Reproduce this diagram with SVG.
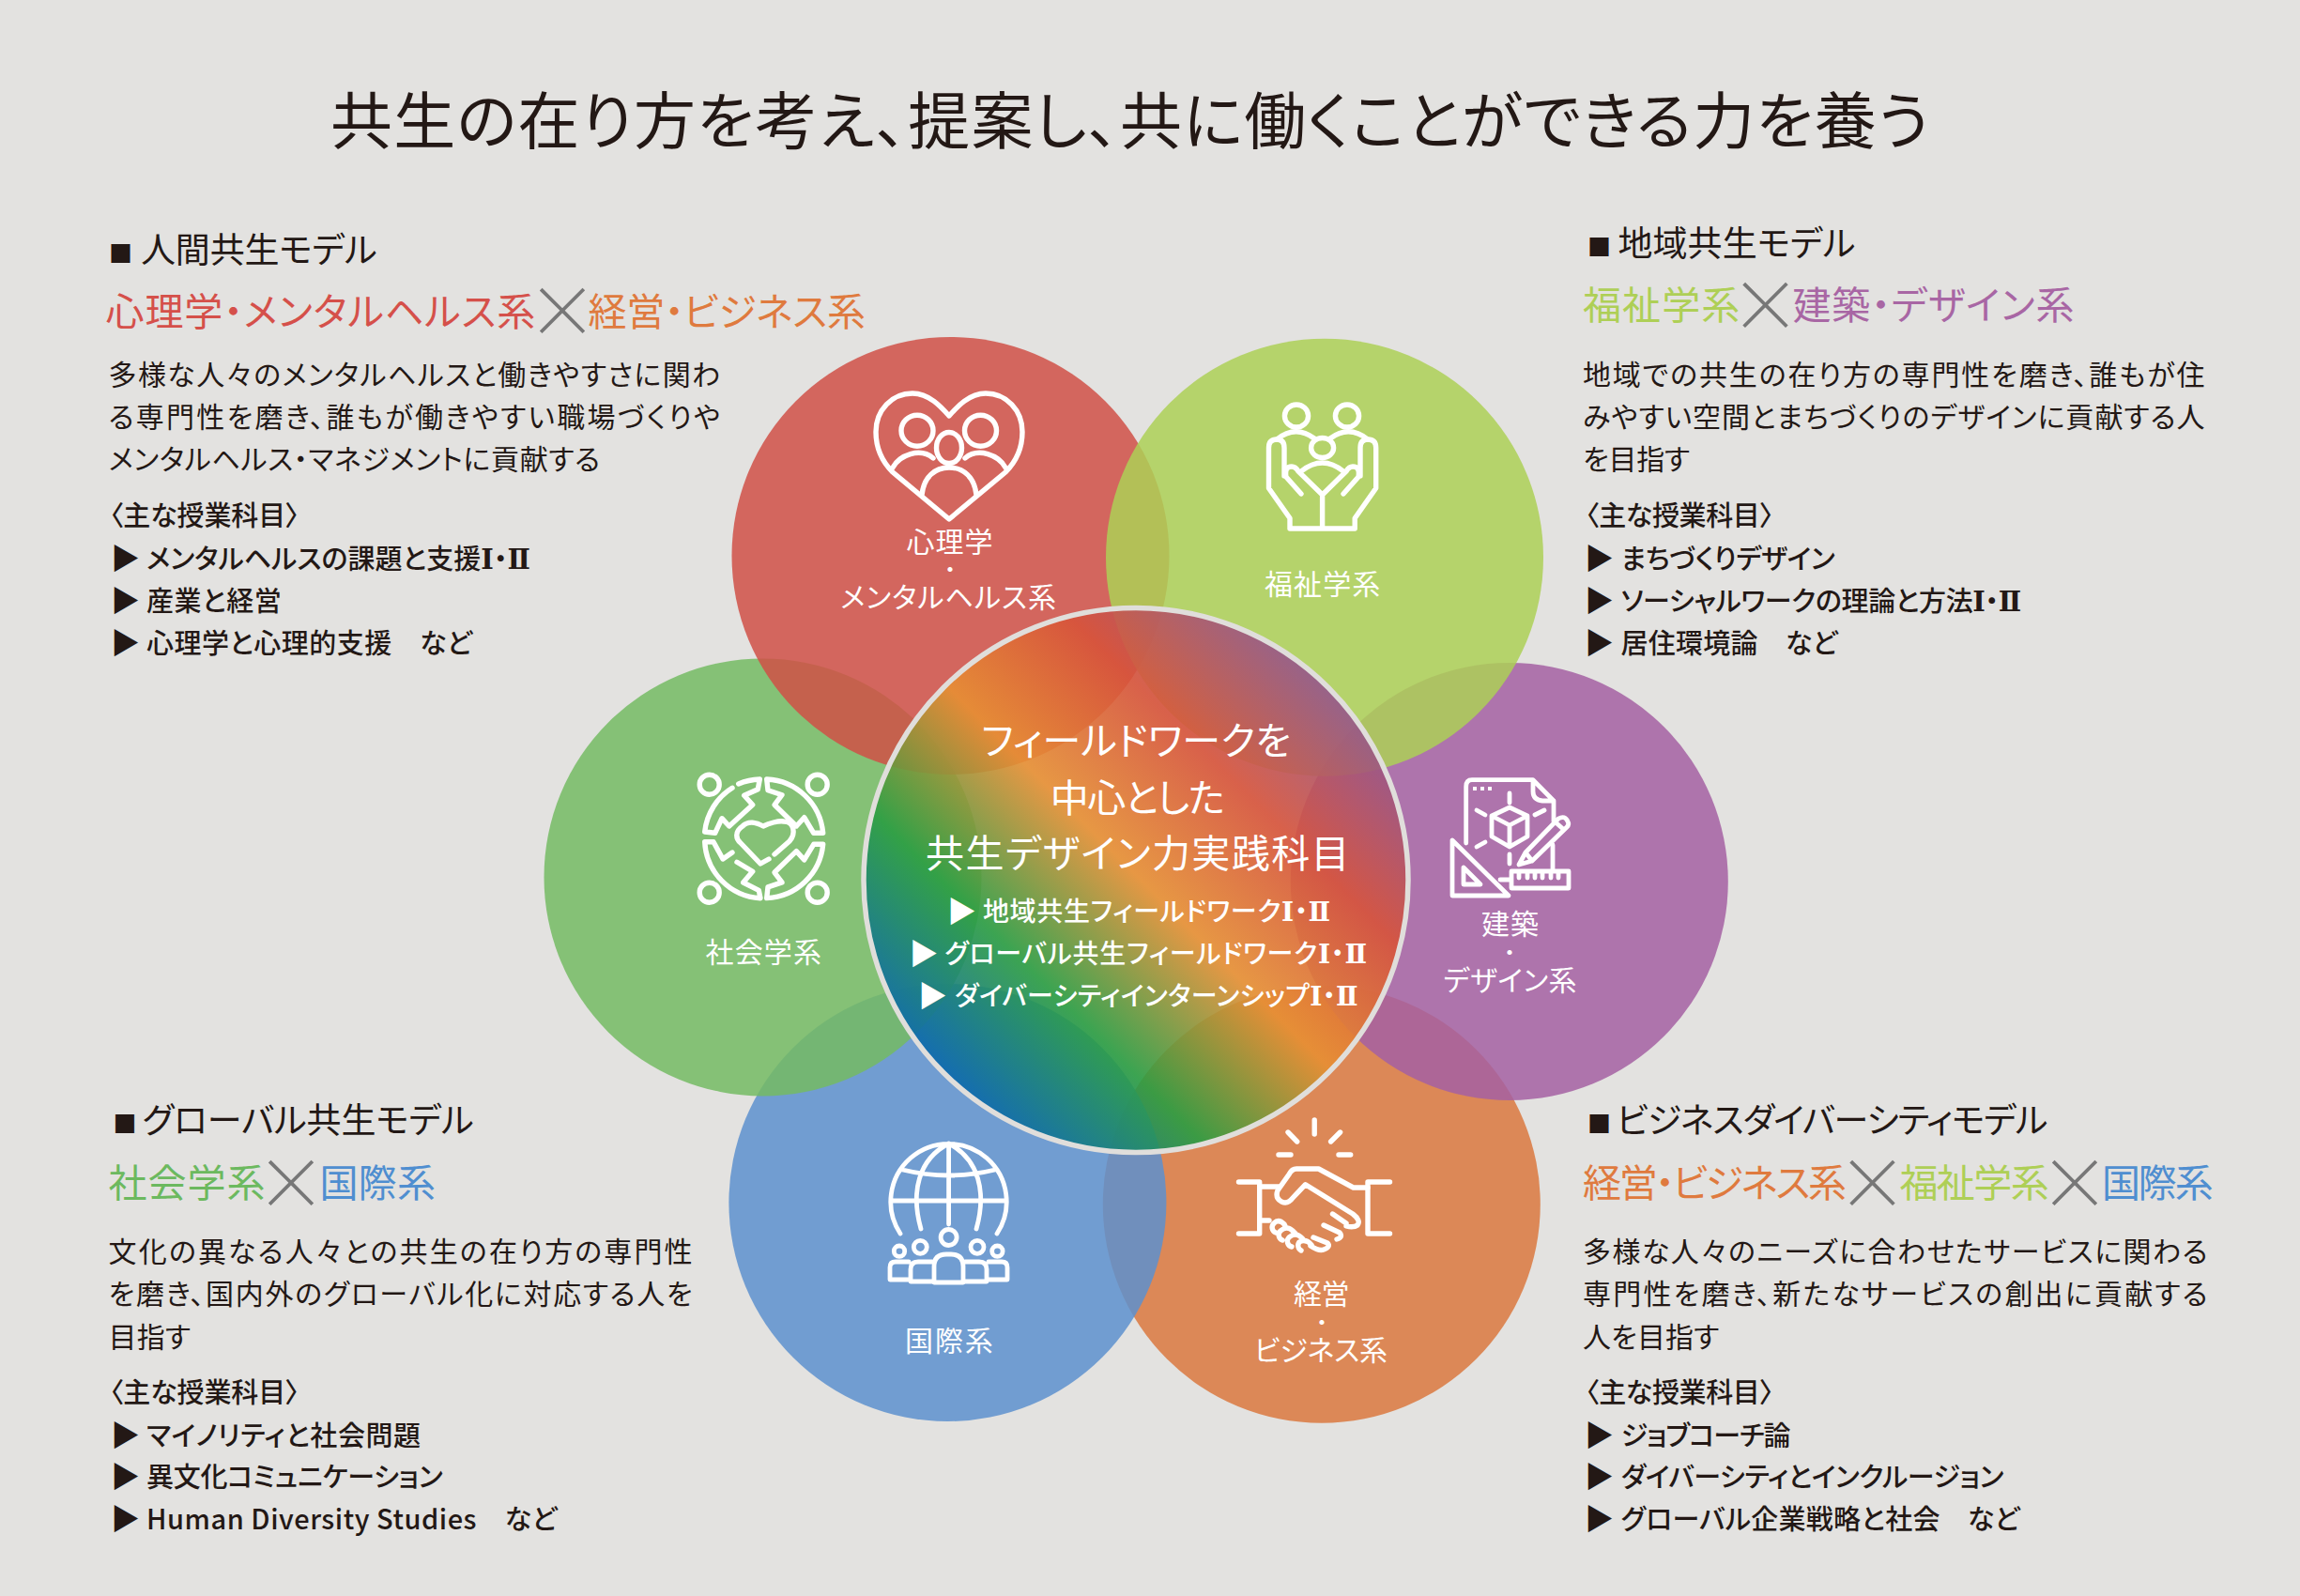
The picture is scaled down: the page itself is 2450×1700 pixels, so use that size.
<svg xmlns="http://www.w3.org/2000/svg" width="2450" height="1700" viewBox="0 0 2450 1700">
<style>
text{font-family:"Noto Sans CJK JP","Noto Sans",sans-serif;fill:#231815;font-feature-settings:"palt";}
.title{font-size:66px;font-weight:400}
.h{font-size:37px;font-weight:400}
.sq{font-size:25px}
.s{font-size:41px;font-weight:400}
.x{font-size:76px;font-weight:300;fill:#777;text-anchor:middle;font-feature-settings:normal}
.d{font-size:30px}
.m{font-size:29px;font-weight:500}
.t{font-size:31px;font-weight:500}
.w{fill:#fff}
.l{font-size:30px;font-weight:400;fill:#fff}
.c{font-size:41px;fill:#fff}
.i{font-size:28px;font-weight:500;fill:#fff}
.dot{font-size:20px;font-weight:700;fill:#fff;text-anchor:middle;font-feature-settings:normal}
.rn{font-family:"DejaVu Serif","Noto Sans CJK JP",serif;font-weight:700;font-feature-settings:normal}
.r{fill:#d5504a}.o{fill:#df7a3e}.y{fill:#aecf56}.p{fill:#a866a4}.g{fill:#6cb95f}.b{fill:#4f8ed0}
.ci{opacity:.85}
.ic{fill:none;stroke:#fff;stroke-width:5.4;stroke-linecap:round;stroke-linejoin:round}
</style>
<defs>
<linearGradient id="rb" gradientUnits="userSpaceOnUse" x1="1004" y1="1143.5" x2="1430" y2="717.5">
<stop offset="0" stop-color="#0a67ae"/><stop offset=".24" stop-color="#2a9d42"/><stop offset=".49" stop-color="#e78f33"/><stop offset=".73" stop-color="#d7533a"/><stop offset="1" stop-color="#8a5799"/>
</linearGradient>
</defs>
<rect width="2450" height="1700" fill="#e3e2e0"/>
<g id="title"><text class="title" x="352" y="153" textLength="1703">共生の在り方を考え、提案し、共に働くことができる力を養う</text></g>

<g id="circles">
<circle class="ci" cx="1407.8" cy="1282.8" r="233" fill="#db783e"/>
<circle class="ci" cx="1607.8" cy="939" r="233" fill="#a560a2"/>
<circle class="ci" cx="1009.4" cy="1281" r="233" fill="#5d91ce"/>
<circle class="ci" cx="812.5" cy="934.4" r="233" fill="#74bb63"/>
<circle class="ci" cx="1012.5" cy="592" r="233" fill="#d05047"/>
<circle class="ci" cx="1411" cy="593.8" r="233" fill="#add056"/>
</g>

<g id="node-psych">
<g class="ic"><path d="M1011 443C1003 434 990 419 972 419C950 419 933 437 933 460C933 480 942 494 951 503L1011 553L1071 503C1080 494 1089 480 1089 460C1089 437 1072 419 1050 419C1032 419 1019 434 1011 443Z"/>
<ellipse cx="977" cy="458.7" rx="17" ry="16.5"/><ellipse cx="1044.5" cy="458.7" rx="17" ry="16.5"/><ellipse cx="1011" cy="477" rx="13.5" ry="16.5"/>
<path d="M951 498C958 485 980 476 994 488M1071 498C1064 485 1042 476 1028 488M982 527C984 508 996 498 1011 498C1026 498 1038 508 1040 527"/></g>
<text class="l" x="965.6" y="587.5" textLength="92">心理学</text>
<text class="dot" x="1012" y="614">・</text>
<text class="l" x="895.3" y="647" textLength="229.7">メンタルヘルス系</text>
</g>
<g id="node-welfare">
<g class="ic"><ellipse cx="1381" cy="443" rx="12.6" ry="12"/><ellipse cx="1435" cy="443" rx="12.6" ry="12"/><ellipse cx="1408.6" cy="477" rx="12" ry="10.5"/>
<path d="M1360 468Q1380 452 1400 467M1457 468Q1437 452 1417 467M1386 502Q1408.6 484 1431 502"/>
<path d="M1374 563V552L1351.5 520V477Q1351.5 468 1360 468Q1368 468 1368 477V507M1386 526L1370 508Q1368 497 1376 497Q1380 497 1383 502L1408.6 527V563M1443.2 563V552L1465.7 520V477Q1465.7 468 1457 468Q1449 468 1449 477V507M1431 526L1447 508Q1449 497 1441 497Q1437 497 1434 502L1408.6 527M1374 563H1443.2"/></g>
<text class="l" x="1346.9" y="633" textLength="123.4">福祉学系</text>
</g>
<g id="node-social">
<g class="ic"><circle cx="755.7" cy="835.7" r="10.5"/><circle cx="870.7" cy="835.7" r="10.5"/><circle cx="755.7" cy="950.7" r="10.5"/><circle cx="870.7" cy="950.7" r="10.5"/>
<path d="M780 839.3A63 63 0 0 0 750.7 886L761.7 887.3L769 871.7L776.7 880L801.7 857.3L792.7 847.3L807.3 840.7L809.3 830A63 63 0 0 0 786.7 835"/>
<path d="M816.7 830L818 841.7L833 846.7L825 857.3L848.3 880L856.7 870.7L866.7 887.3L876.7 887.3A63 63 0 0 0 816.7 830Z"/>
<path d="M816.7 956.6L818 944.9L833 939.9L825 929.3L848.3 906.6L856.7 915.9L866.7 899.3L876.7 899.3A63 63 0 0 1 816.7 956.6Z"/>
<path d="M780 908L770 915L760 896.7H750.7A63 63 0 0 0 810 956.7L808.3 948.3L791.7 940L801.7 928.3L785 918.3"/>
<path d="M825 910L841 896C848 888 846 875 835 875C829 874 819 877 813 880C806 876 797 874 791 880C782 886 784 894 789 898L810 920L819 915"/></g>
<text class="l" x="751.6" y="1025" textLength="123.4">社会学系</text>
</g>
<g id="node-design">
<g class="ic" style="stroke-width:4.8"><path d="M1561.7 898V838Q1561.7 830.7 1568 830.7H1633L1655 853V875M1633 831V843Q1633 852 1643 853H1655M1654 900V927"/>
<path d="M1608 860L1627 869V891L1608 902L1589 891V869ZM1589 869L1608 879L1627 869M1608 879V902"/>
<path d="M1608 845V855M1573 863L1582 868M1635 868L1645 863M1573 902L1582 897M1608 910V920"/>
<path d="M1618 921L1625 908L1660 872Q1667 868 1670 875Q1672 878 1669 881L1632 917ZM1656 875L1665 883M1625 908L1632 917"/>
<path d="M1547 895V954H1607ZM1559 924V942H1577Z"/>
<path d="M1610 928H1671V946H1610ZM1618 928V935M1627 928V935M1635 928V935M1643 928V935M1652 928V935M1660 928V935M1598 937H1610"/></g>
<g fill="#fff"><rect x="1569" y="838" width="4" height="4"/><rect x="1577" y="838" width="4" height="4"/><rect x="1585" y="838" width="4" height="4"/></g>
<text class="l" x="1578" y="995" textLength="61">建築</text>
<text class="dot" x="1608" y="1022">・</text>
<text class="l" x="1537.5" y="1054.7" textLength="142">デザイン系</text>
</g>
<g id="node-intl">
<g class="ic" style="stroke-width:4.8"><path d="M959 1314A61.7 61.7 0 1 1 1062 1314M981 1309C970 1270 978 1235 1010.6 1218C1043 1235 1051 1270 1040 1309M1010.6 1218V1304M951.4 1279H1071M961.4 1246Q1010.6 1258 1060 1246"/>
<circle cx="1010.6" cy="1318" r="8.5"/><path d="M995 1366V1349Q995 1336 1008 1336H1013Q1026 1336 1026 1349V1366Z"/>
<circle cx="980.3" cy="1328.3" r="7"/><circle cx="1041" cy="1328.3" r="7"/><circle cx="958" cy="1332.7" r="5.7"/><circle cx="1062.4" cy="1332.7" r="5.7"/>
<path d="M993 1344H978Q970 1344 970 1352V1365H993M1028 1344H1043Q1051 1344 1051 1352V1365H1028M968 1344H954Q948 1344 948 1350V1363H968M1053 1344H1067Q1073 1344 1073 1350V1363H1053"/></g>
<text class="l" x="964" y="1439" textLength="93.75">国際系</text>
</g>
<g id="node-business">
<g class="ic"><path d="M1400.2 1193V1208M1372 1206L1381.7 1216M1427.6 1206L1417.6 1216M1362 1230H1375M1426 1230H1438.7"/>
<path d="M1319.5 1259H1341.7V1314H1319.5M1480.5 1259H1457V1314H1480.5M1341.7 1264H1362M1341.7 1300H1352"/>
<path d="M1457 1265H1441.6L1404.6 1245H1381Q1376 1245 1373 1251L1361 1268Q1358 1276 1365 1280Q1372 1283 1377 1276L1390.6 1261.7L1441 1293Q1450 1300 1446 1305Q1442 1308 1434 1306"/>
<path d="M1419.5 1293L1434 1303M1410 1305L1427 1313Q1431 1318 1424 1320M1399 1318L1414 1324Q1418 1328 1410 1331Q1405 1333 1396 1327"/>
<path d="M1359 1313A6 6 0 0 1 1357 1303Q1362 1298 1368 1304L1370 1308M1366 1321A6 6 0 0 1 1364 1311Q1371 1305 1377 1311L1380 1314M1376 1328A6 6 0 0 1 1373 1318Q1380 1312 1386 1318L1388 1320M1386 1332A6 6 0 0 1 1384 1323Q1391 1319 1397 1326"/></g>
<text class="l" x="1378" y="1389" textLength="59.4">経営</text>
<text class="dot" x="1408" y="1416">・</text>
<text class="l" x="1336" y="1448.5" textLength="142">ビジネス系</text>
</g>

<g id="node-center">
<circle cx="1210" cy="937.5" r="290" fill="url(#rb)" fill-opacity=".9" stroke="#e0dedb" stroke-width="5.5"/>
<text class="c" x="1045.3" y="804" textLength="329.7">フィールドワークを</text>
<text class="c" x="1118.7" y="865" textLength="186">中心とした</text>
<text class="c" x="986" y="924" textLength="451.6">共生デザイン力実践科目</text>
<text class="t w" x="1009" y="981.5">▶</text><text class="i" x="1046.9" y="980.5" textLength="370.3">地域共生フィールドワーク<tspan class="rn">Ⅰ</tspan>・<tspan class="rn">Ⅱ</tspan></text>
<text class="t w" x="968.5" y="1027">▶</text><text class="i" x="1006.2" y="1026" textLength="450">グローバル共生フィールドワーク<tspan class="rn">Ⅰ</tspan>・<tspan class="rn">Ⅱ</tspan></text>
<text class="t w" x="978" y="1072">▶</text><text class="i" x="1017" y="1071" textLength="429.7">ダイバーシティインターンシップ<tspan class="rn">Ⅰ</tspan>・<tspan class="rn">Ⅱ</tspan></text>
</g>

<g id="panel-human">
<text class="h sq" x="116" y="280">■</text><text class="h" x="150" y="280" textLength="251.6">人間共生モデル</text>
<text class="s r" x="112.5" y="346.5" textLength="457.8">心理学・メンタルヘルス系</text>
<text class="x" x="599" y="359">×</text>
<text class="s o" x="626.6" y="346.5" textLength="295.3">経営・ビジネス系</text>
<text class="d" x="115.6" y="409.6" textLength="651.6">多様な人々のメンタルヘルスと働きやすさに関わ</text>
<text class="d" x="115.6" y="455" textLength="651.6">る専門性を磨き、誰もが働きやすい職場づくりや</text>
<text class="d" x="115.6" y="500" textLength="523.4">メンタルヘルス・マネジメントに貢献する</text>
<text class="m" x="117" y="560" textLength="201.6">〈主な授業科目〉</text>
<text class="t" x="118" y="606">▶</text><text class="m" x="156" y="605.5" textLength="409">メンタルヘルスの課題と支援<tspan class="rn">Ⅰ</tspan>・<tspan class="rn">Ⅱ</tspan></text>
<text class="t" x="118" y="651">▶</text><text class="m" x="156" y="650.5" textLength="143.8">産業と経営</text>
<text class="t" x="118" y="696">▶</text><text class="m" x="156" y="695.5" textLength="346.9">心理学と心理的支援　など</text>
</g>
<g id="panel-region">
<text class="h sq" x="1691" y="273">■</text><text class="h" x="1723.4" y="273" textLength="253">地域共生モデル</text>
<text class="s y" x="1686" y="340" textLength="167.2">福祉学系</text>
<text class="x" x="1880.5" y="352.5">×</text>
<text class="s p" x="1909.4" y="340" textLength="300">建築・デザイン系</text>
<text class="d" x="1686" y="409.6" textLength="662.5">地域での共生の在り方の専門性を磨き、誰もが住</text>
<text class="d" x="1686" y="455" textLength="662.5">みやすい空間とまちづくりのデザインに貢献する人</text>
<text class="d" x="1686" y="500" textLength="114">を目指す</text>
<text class="m" x="1689" y="560" textLength="200">〈主な授業科目〉</text>
<text class="t" x="1688" y="606">▶</text><text class="m" x="1726.6" y="605.5" textLength="228">まちづくりデザイン</text>
<text class="t" x="1688" y="651">▶</text><text class="m" x="1726.6" y="650.5" textLength="426.6">ソーシャルワークの理論と方法<tspan class="rn">Ⅰ</tspan>・<tspan class="rn">Ⅱ</tspan></text>
<text class="t" x="1688" y="696">▶</text><text class="m" x="1726.6" y="695.5" textLength="231">居住環境論　など</text>
</g>
<g id="panel-global">
<text class="h sq" x="120.5" y="1206.5">■</text><text class="h" x="151.6" y="1206.5" textLength="353">グローバル共生モデル</text>
<text class="s g" x="115.6" y="1275" textLength="167">社会学系</text>
<text class="x" x="310" y="1288">×</text>
<text class="s b" x="340.6" y="1275" textLength="123.4">国際系</text>
<text class="d" x="115.6" y="1344" textLength="622">文化の異なる人々との共生の在り方の専門性</text>
<text class="d" x="115.6" y="1389" textLength="622">を磨き、国内外のグローバル化に対応する人を</text>
<text class="d" x="115.6" y="1434.5" textLength="87.5">目指す</text>
<text class="m" x="117" y="1494" textLength="201.6">〈主な授業科目〉</text>
<text class="t" x="118" y="1540">▶</text><text class="m" x="156" y="1539.5" textLength="292">マイノリティと社会問題</text>
<text class="t" x="118" y="1584">▶</text><text class="m" x="156" y="1583.5" textLength="315.6">異文化コミュニケーション</text>
<text class="t" x="118" y="1629">▶</text><text class="m" x="156" y="1628.5" textLength="437.5">Human Diversity Studies　など</text>
</g>
<g id="panel-business">
<text class="h sq" x="1691" y="1206.5">■</text><text class="h" x="1722" y="1206.5" textLength="459.4">ビジネスダイバーシティモデル</text>
<text class="s o" x="1686" y="1275" textLength="281">経営・ビジネス系</text>
<text class="x" x="1994.5" y="1288">×</text>
<text class="s y" x="2023.4" y="1275" textLength="159.4">福祉学系</text>
<text class="x" x="2210" y="1288">×</text>
<text class="s b" x="2239" y="1275" textLength="118.7">国際系</text>
<text class="d" x="1686" y="1344" textLength="665.6">多様な人々のニーズに合わせたサービスに関わる</text>
<text class="d" x="1686" y="1389" textLength="665.6">専門性を磨き、新たなサービスの創出に貢献する</text>
<text class="d" x="1686" y="1434.5" textLength="145.3">人を目指す</text>
<text class="m" x="1689" y="1494" textLength="200">〈主な授業科目〉</text>
<text class="t" x="1688" y="1540">▶</text><text class="m" x="1726.6" y="1539.5" textLength="181">ジョブコーチ論</text>
<text class="t" x="1688" y="1584">▶</text><text class="m" x="1726.6" y="1583.5" textLength="407.8">ダイバーシティとインクルージョン</text>
<text class="t" x="1688" y="1629">▶</text><text class="m" x="1726.6" y="1628.5" textLength="425">グローバル企業戦略と社会　など</text>
</g>
</svg>
